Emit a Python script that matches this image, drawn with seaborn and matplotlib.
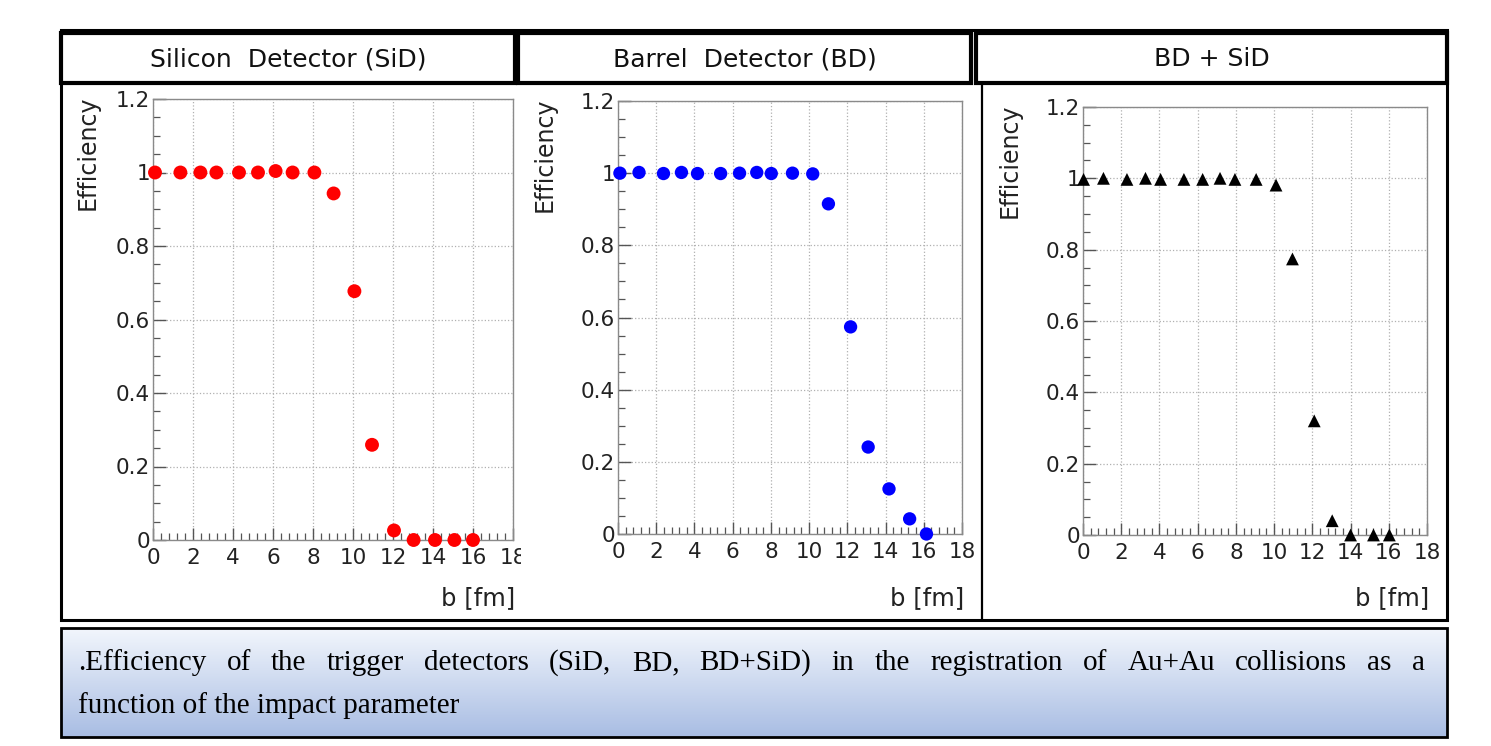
import numpy as np
import pandas as pd
import matplotlib
matplotlib.use("Agg")
import matplotlib.pyplot as plt
from matplotlib.patches import Rectangle
from matplotlib.ticker import MultipleLocator
from matplotlib.transforms import Bbox
import seaborn as sns

# values
sid_b = [0.1, 1.37, 2.37, 3.17, 4.3, 5.25, 6.13, 6.98, 8.07, 9.03, 10.07, 10.95, 12.05, 13.03, 14.1, 15.07, 16.0]
sid_eff = [1.0, 1.0, 1.0, 1.0, 1.0, 1.0, 1.004, 1.0, 1.0, 0.943, 0.677, 0.259, 0.026, 0.0, 0.0, 0.0, 0.0]

bd_b = [0.1, 1.1, 2.38, 3.32, 4.16, 5.37, 6.36, 7.26, 8.02, 9.13, 10.19, 11.01, 12.17, 13.09, 14.18, 15.26, 16.14]
bd_eff = [1.0, 1.002, 0.999, 1.002, 0.999, 0.999, 1.0, 1.002, 0.999, 1.0, 0.998, 0.915, 0.574, 0.241, 0.125, 0.042, 0.0]

comb_b = [0.03, 1.07, 2.3, 3.27, 4.06, 5.28, 6.26, 7.17, 7.95, 9.06, 10.1, 10.96, 12.1, 13.04, 14.0, 15.2, 16.03]
comb_eff = [0.997, 1.0, 0.997, 1.0, 0.997, 0.997, 0.997, 1.0, 0.997, 0.997, 0.981, 0.774, 0.32, 0.04, 0.0, 0.0, 0.0]

titles = ["Silicon  Detector (SiD)", "Barrel  Detector (BD)", "BD + SiD"]
caption_line1 = ".Efficiency of the trigger detectors (SiD, BD, BD+SiD) in the registration of Au+Au collisions as a"
caption_line2 = "function of the impact parameter"

sns.set_style("white")
plt.rcParams['font.family'] = ['DejaVu Sans']

W, H = 1491, 746
fig = plt.figure(figsize=(W / 100, H / 100), dpi=100)


def fx(x):
    return x / W


def fy(y):
    return 1 - y / H


def box(x0, y0, x1, y1, lw=2.0, fc="none", ec="black", z=5):
    r = Rectangle((fx(x0), fy(y1)), fx(x1) - fx(x0), fy(y0) - fy(y1),
                  transform=fig.transFigure, fill=(fc != "none"), facecolor=fc,
                  edgecolor=ec, lw=lw, zorder=z)
    fig.add_artist(r)


# panel axes placement in pixels: left, right, top, bottom
panels = [
    dict(x=sid_b, y=sid_eff, color="#ff0000", marker="o", s=100, box=(153, 513, 99, 540), lab=88),
    dict(x=bd_b, y=bd_eff, color="#0000ff", marker="o", s=92, box=(618, 962, 101, 534), lab=545),
    dict(x=comb_b, y=comb_eff, color="black", marker="^", s=85, box=(1083, 1427, 107, 535), lab=1010),
]

for i, p in enumerate(panels):
    l, r, t, b = p["box"]
    ax = fig.add_axes([fx(l), fy(b), fx(r) - fx(l), fy(t) - fy(b)])
    df = pd.DataFrame({"b": p["x"], "eff": p["y"]})
    sns.scatterplot(data=df, x="b", y="eff", ax=ax, color=p["color"], marker=p["marker"],
                    s=p["s"], edgecolor="none", linewidth=0, clip_on=False, zorder=5)
    ax.set_xlim(0, 18)
    ax.set_ylim(0, 1.2)
    ax.xaxis.set_major_locator(MultipleLocator(2))
    ax.xaxis.set_minor_locator(MultipleLocator(0.4))
    ax.yaxis.set_minor_locator(MultipleLocator(0.05))
    ax.set_yticks([0, 0.2, 0.4, 0.6, 0.8, 1.0, 1.2])
    ax.set_yticklabels(["0", "0.2", "0.4", "0.6", "0.8", "1", "1.2"])
    ax.grid(True, which="major", ls=":", color="#b0b0b0", lw=0.9)
    ax.tick_params(which="both", direction="in", colors="#555555", labelcolor="#222222",
                   labelsize=15.5, bottom=True, left=True, top=False, right=False)
    ax.tick_params(which="major", length=9, width=1.0)
    ax.tick_params(which="minor", length=5, width=0.9)
    ax.tick_params(axis="x", which="major", pad=6)
    ax.tick_params(axis="y", which="major", pad=2)
    for sp in ax.spines.values():
        sp.set_color("#8a8a8a")
        sp.set_linewidth(1.0)
    ax.set_xlabel("")
    ax.set_ylabel("")
    if i == 0:
        # the 18 label is cut by the panel border in the original
        fig.canvas.draw()
        for tl in ax.get_xticklabels():
            tl.set_clip_box(Bbox([[0, 0], [521, H]]))
            tl.set_clip_on(True)
    fig.text(fx(p["lab"]), fy(t - 4), "Efficiency", rotation=90, ha="center", va="top",
             fontsize=17, color="#222222")
    fig.text(fx(r + 2), fy(598), "b [fm]", ha="right", va="center", fontsize=17.5, color="#222222")

# outer frame, panel separator and title boxes
box(61, 30, 1447, 620, lw=2.2)
fig.add_artist(plt.Line2D([fx(982), fx(982)], [fy(83), fy(620)], transform=fig.transFigure,
                          color="black", lw=1.6))
title_boxes = [(61, 515), (518, 971), (976, 1447)]
for (x0, x1), tt in zip(title_boxes, titles):
    box(x0, 33, x1, 83, lw=3.0, fc="white")
    fig.text(fx((x0 + x1) / 2), fy(59), tt, ha="center", va="center", fontsize=18,
             color="#111111", zorder=6)

# caption box with vertical blue gradient
cax = fig.add_axes([fx(61), fy(737), fx(1447) - fx(61), fy(628) - fy(737)])
grad = np.linspace(0, 1, 256).reshape(-1, 1)
top = np.array([0.95, 0.965, 0.99])
bot = np.array([0.66, 0.74, 0.89])
img = top + grad[..., None] * (bot - top)
cax.imshow(img.reshape(256, 1, 3), aspect="auto", extent=[0, 1, 0, 1])
cax.set_axis_off()
box(61, 628, 1447, 737, lw=2.0)

# caption: first line justified between the box margins, like the document
serif = ["Liberation Serif", "DejaVu Serif"]
cap_size = 21
renderer = fig.canvas.get_renderer()
words = caption_line1.split(" ")
arts = [fig.text(0, fy(663), w, ha="left", va="center", fontsize=cap_size, family=serif,
                 color="black") for w in words]
widths = [a.get_window_extent(renderer).width for a in arts]
x_left, x_right = 78, 1425
gap = (x_right - x_left - sum(widths)) / (len(words) - 1)
xpos = x_left
for a, w in zip(arts, widths):
    a.set_x(fx(xpos))
    xpos += w + gap
fig.text(fx(x_left), fy(706), caption_line2, ha="left", va="center", fontsize=cap_size,
         family=serif, color="black")

fig.savefig("out.png", dpi=100)
